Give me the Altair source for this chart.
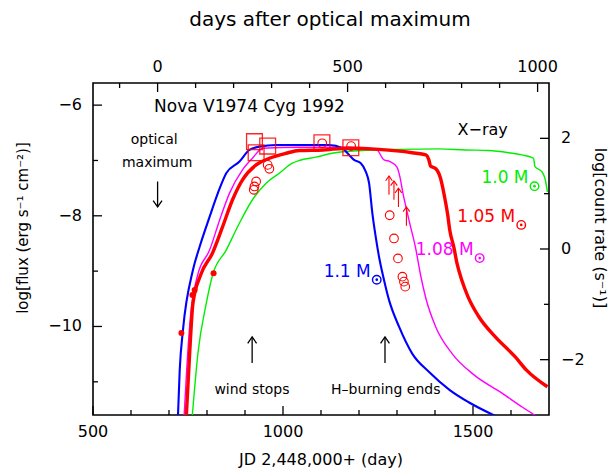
import altair as alt
import pandas as pd

FONT = "DejaVu Sans"
W, H = 456, 332
T0 = 670  # optical maximum, JD 2,448,000+

RED, BLUE, MAGENTA, GREEN = "#ff0000", "#0000ff", "#ff00ff", "#00ee00"

# ---------------- model curves (JD 2,448,000+, log flux) ----------------
m11_jd = [723.7, 728.2, 736.8, 763.0, 780.6, 806.8, 828.6, 850.6, 885.5, 911.7,
          938.0, 981.8, 1042.9, 1121.5, 1156.4, 1174.0, 1187.1, 1204.7, 1217.8, 1226.5,
          1235.1, 1244.0, 1252.7, 1265.8, 1278.9, 1305.1, 1340.0, 1383.8, 1438.9, 1488.7,
          1559.5]
m11_lf = [-11.6, -10.79, -10.06, -8.98, -8.56, -8.02, -7.59, -7.23, -7.02, -6.81,
          -6.75, -6.72, -6.72, -6.72, -6.78, -6.90, -6.99, -7.05, -7.20, -7.41,
          -7.95, -8.38, -8.74, -9.16, -9.52, -10.00, -10.49, -10.82, -11.15, -11.37,
          -11.62]

m108_jd = [739.9, 746.5, 755.7, 775.4, 806.8, 833.1, 859.3, 893.4, 919.6, 946.6,
           1042.9, 1174.0, 1244.8, 1265.8, 1281.5, 1299.9, 1307.8, 1315.6, 1323.5, 1334.0,
           1348.9, 1362.0, 1375.9, 1401.4, 1444.9, 1501.8, 1575.3, 1630.4, 1664.4]
m108_lf = [-11.6, -10.79, -9.88, -9.07, -8.62, -8.08, -7.59, -7.17, -6.96, -6.78,
           -6.76, -6.76, -6.79, -6.99, -7.02, -7.12, -7.30, -7.59, -7.84, -8.15,
           -8.58, -9.07, -9.49, -10.00, -10.49, -10.87, -11.20, -11.46, -11.61]

m105_jd = [745.7, 754.4, 763.0, 783.2, 814.7, 840.9, 867.2, 893.4, 929.3, 964.2,
           1008.0, 1042.9, 1103.2, 1174.0, 1252.7, 1340.0, 1375.9, 1383.8, 1388.3, 1402.2,
           1414.5, 1425.8, 1433.6, 1438.9, 1449.4, 1457.3, 1470.4, 1486.1, 1515.0, 1558.8,
           1611.2, 1640.8, 1695.9]
m105_lf = [-11.6, -10.48, -9.58, -9.07, -8.67, -8.20, -7.71, -7.35, -7.08, -6.96,
           -6.87, -6.82, -6.81, -6.78, -6.80, -6.86, -6.90, -6.99, -7.10, -7.15,
           -7.32, -7.68, -7.99, -8.26, -8.56, -8.84, -9.16, -9.45, -9.82, -10.19,
           -10.55, -10.79, -11.09]

m10_jd = [761.5, 776.2, 798.2, 814.7, 850.6, 885.5, 919.6, 955.6, 990.4, 1024.5,
          1042.9, 1086.7, 1129.4, 1208.1, 1305.1, 1410.0, 1480.1, 1541.2, 1593.6, 1628.5,
          1659.2, 1663.1, 1681.0, 1689.9, 1695.9]
m10_lf = [-11.6, -10.48, -9.58, -9.07, -8.62, -8.13, -7.71, -7.41, -7.23, -7.05,
          -7.00, -6.94, -6.87, -6.82, -6.80, -6.79, -6.81, -6.82, -6.86, -6.90,
          -6.96, -7.11, -7.20, -7.34, -7.57]

# ---------------- observations ----------------
dot_jd = [732.6, 761.5, 767.5, 817.3]          # filled dots, log flux
dot_lf = [-10.12, -9.43, -9.34, -9.04]

sq_jd = [924.9, 929.3, 959.7, 1102.4, 1178.5]  # squares, log count rate
sq_lc = [1.94, 1.74, 1.86, 1.92, 1.83]

ci_jd = [923.0, 924.9, 929.3, 959.7, 964.2, 1103.2, 1179.3,
         1280.8, 1292.1, 1302.5, 1314.3, 1318.2, 1321.7]   # open circles, log count rate
ci_lc = [1.07, 1.13, 1.22, 1.52, 1.45, 1.91, 1.86,
         0.61, 0.19, -0.17, -0.50, -0.59, -0.68]

ar_jd = [1278.9, 1292.0, 1303.8, 1324.8]       # lower limits, log count rate
ar_lc = [0.98, 0.89, 0.76, 0.42]

# ---------------- annotations ----------------
model_names = ["1.0", "1.05", "1.08", "1.1"]
model_colors = [GREEN, RED, MAGENTA, BLUE]
label_jd = [1646.1, 1611.2, 1501.8, 1230.9]
label_lf = [-7.32, -8.02, -8.62, -9.01]

ann_jd = [T0, 918.8, 1268.4]
ann_from = [-7.38, -10.66, -10.66]
ann_to = [-7.84, -10.19, -10.19]

note_text = ["optical", "maximum", "wind stops", "H\u2013burning ends"]
note_jd = [661.0, 669.0, 918.3, 1270.3]
note_lf = [-6.63, -7.05, -11.14, -11.15]

title_text = ["Nova V1974 Cyg 1992"]
title_jd = [911.7]
title_lf = [-6.03]

xray_text = ["X\u2212ray"]
xray_jd = [1525.4]
xray_lf = [-6.45]

# ---------------- axes: ticks and labels ----------------
bottom_major = [500, 1000, 1500]
bottom_minor = [600, 700, 800, 900, 1100, 1200, 1300, 1400, 1600]
top_major_days = [0, 500, 1000]
top_minor_days = [-100, 100, 200, 300, 400, 600, 700, 800, 900]
left_major = [-10, -8, -6]
left_minor = [-11, -9, -7]
right_major = [-2, 0, 2]
right_minor = [-1, 1]

x_title = "JD 2,448,000+ (day)"
top_title = "days after optical maximum"
left_title = "log[flux (erg s\u207b\u00b9  cm\u207b\u00b2)]"
right_title = "log[count rate (s\u207b\u00b9)]"

XS = alt.Scale(domain=[500, 1700], nice=False, zero=False)
YL = alt.Scale(domain=[-11.6, -5.6], nice=False, zero=False)
YR = alt.Scale(domain=[-3, 3], nice=False, zero=False)


def fmt(v):
    return str(v).replace("-", "\u2212")


def X(field):
    return alt.X(field, scale=XS, axis=None)


# ---------------- left-axis layers ----------------
left_layers = []
curve_specs = [(m10_jd, m10_lf, GREEN, 1.4),
               (m108_jd, m108_lf, MAGENTA, 1.4),
               (m11_jd, m11_lf, BLUE, 2.1),
               (m105_jd, m105_lf, RED, 3.4)]
for jd, lf, col, sw in curve_specs:
    df = pd.DataFrame({"jd": jd, "lf": lf})
    left_layers.append(
        alt.Chart(df).mark_line(color=col, strokeWidth=sw, clip=True, interpolate="monotone").encode(
            x=X("jd:Q"), y=alt.Y("lf:Q", scale=YL, axis=None), order=alt.Order("jd:Q"))
    )

dots = pd.DataFrame({"jd": dot_jd, "lf": dot_lf})
left_layers.append(
    alt.Chart(dots).mark_point(shape="circle", filled=True, color=RED, size=36, opacity=1).encode(
        x=X("jd:Q"), y=alt.Y("lf:Q", scale=YL, axis=None))
)

labels = pd.DataFrame({"model": model_names, "jd": label_jd, "lf": label_lf})
labels["txt"] = labels["model"] + " M"
cscale = alt.Scale(domain=model_names, range=model_colors)
left_layers.append(
    alt.Chart(labels).mark_text(font=FONT, fontSize=17, align="right", baseline="middle").encode(
        x=X("jd:Q"), y=alt.Y("lf:Q", scale=YL, axis=None),
        text="txt:N", color=alt.Color("model:N", scale=cscale, legend=None))
)
left_layers.append(
    alt.Chart(labels).mark_point(shape="circle", filled=False, size=72, strokeWidth=1.4,
                                 opacity=1, xOffset=6, yOffset=8).encode(
        x=X("jd:Q"), y=alt.Y("lf:Q", scale=YL, axis=None),
        color=alt.Color("model:N", scale=cscale, legend=None))
)
left_layers.append(
    alt.Chart(labels).mark_point(shape="circle", filled=True, size=7, opacity=1,
                                 xOffset=6, yOffset=8).encode(
        x=X("jd:Q"), y=alt.Y("lf:Q", scale=YL, axis=None),
        color=alt.Color("model:N", scale=cscale, legend=None))
)

UP = "M-0.7,1L0,0L0.7,1"
DOWN = "M-0.7,-1L0,0L0.7,-1"
ann = pd.DataFrame({"jd": ann_jd, "y0": ann_from, "y1": ann_to})
ann["dir"] = ["up" if b > a else "down" for a, b in zip(ann_from, ann_to)]
left_layers.append(
    alt.Chart(ann).mark_rule(color="black", strokeWidth=1.3).encode(
        x=X("jd:Q"), y=alt.Y("y0:Q", scale=YL, axis=None), y2="y1:Q")
)
left_layers.append(
    alt.Chart(ann).mark_point(filled=False, color="black", size=160, strokeWidth=1.3, opacity=1).encode(
        x=X("jd:Q"), y=alt.Y("y1:Q", scale=YL, axis=None),
        shape=alt.Shape("dir:N", scale=alt.Scale(domain=["up", "down"], range=[UP, DOWN]), legend=None))
)


def text_layer(txt, jd, lf, size):
    df = pd.DataFrame({"t": txt, "jd": jd, "lf": lf})
    return alt.Chart(df).mark_text(font=FONT, fontSize=size, color="black", baseline="middle").encode(
        x=X("jd:Q"), y=alt.Y("lf:Q", scale=YL, axis=None), text="t:N")


left_layers.append(text_layer(note_text, note_jd, note_lf, 14))
left_layers.append(text_layer(title_text, title_jd, title_lf, 17))
left_layers.append(text_layer(xray_text, xray_jd, xray_lf, 16))


# ticks (drawn inward)
def xtick(vals, length, top, days=False):
    df = pd.DataFrame({"v": vals})
    ch = alt.Chart(df).transform_calculate(jd=f"datum.v + {T0}" if days else "datum.v")
    if top:
        yy, yy2 = alt.value(0), alt.value(length)
    else:
        yy, yy2 = alt.value(H), alt.value(H - length)
    return ch.mark_rule(color="black", strokeWidth=1.3).encode(x=X("jd:Q"), y=yy, y2=yy2)


def ytick(vals, length, scale, right):
    df = pd.DataFrame({"v": vals})
    if right:
        xx, xx2 = alt.value(W), alt.value(W - length)
    else:
        xx, xx2 = alt.value(0), alt.value(length)
    return alt.Chart(df).mark_rule(color="black", strokeWidth=1.3).encode(
        y=alt.Y("v:Q", scale=scale, axis=None), x=xx, x2=xx2)


def xlabels(vals, top, days=False):
    df = pd.DataFrame({"v": vals})
    df["t"] = [fmt(v) for v in vals]
    ch = alt.Chart(df).transform_calculate(jd=f"datum.v + {T0}" if days else "datum.v")
    yy = alt.value(-16) if top else alt.value(H + 17)
    return ch.mark_text(font=FONT, fontSize=16, color="black", baseline="middle", align="center").encode(
        x=X("jd:Q"), y=yy, text="t:N")


def ylabels(vals, scale, right):
    df = pd.DataFrame({"v": vals})
    df["t"] = [fmt(v) for v in vals]
    xx = alt.value(W + 12) if right else alt.value(-11)
    return alt.Chart(df).mark_text(font=FONT, fontSize=16, color="black", baseline="middle",
                                   align="left" if right else "right").encode(
        y=alt.Y("v:Q", scale=scale, axis=None), x=xx, text="t:N")


def title_mark(txt, x, y, size, angle=0):
    kw = dict(font=FONT, fontSize=size, color="black", baseline="middle", align="center")
    if angle:
        kw["angle"] = angle
    return alt.Chart(pd.DataFrame({"t": [txt]})).mark_text(**kw).encode(
        x=alt.value(x), y=alt.value(y), text="t:N")


left_layers += [xtick(bottom_major, 9, False), xtick(bottom_minor, 5, False),
                xtick(top_major_days, 9, True, True), xtick(top_minor_days, 5, True, True),
                ytick(left_major, 9, YL, False), ytick(left_minor, 5, YL, False),
                xlabels(bottom_major, False), xlabels(top_major_days, True, True),
                ylabels(left_major, YL, False),
                title_mark(x_title, W / 2, H + 45, 16),
                title_mark(top_title, 237, -63, 20),
                title_mark(left_title, -70, 145, 15, 270),
                title_mark(right_title, 507, 145, 16, 90)]

left = alt.layer(*left_layers)

# ---------------- right-axis layers ----------------
sq = pd.DataFrame({"jd": sq_jd, "lc": sq_lc})
ci = pd.DataFrame({"jd": ci_jd, "lc": ci_lc})
ar = pd.DataFrame({"jd": ar_jd, "lc": ar_lc})

right_layers = [
    alt.Chart(sq).mark_point(shape="square", filled=False, color=RED, size=250, strokeWidth=1.3, opacity=0.85).encode(
        x=X("jd:Q"), y=alt.Y("lc:Q", scale=YR, axis=None)),
    alt.Chart(ci).mark_point(shape="circle", filled=False, color=RED, size=75, strokeWidth=1.1, opacity=1).encode(
        x=X("jd:Q"), y=alt.Y("lc:Q", scale=YR, axis=None)),
    alt.Chart(ar).transform_calculate(top="datum.lc + 0.34").mark_rule(color=RED, strokeWidth=1.1).encode(
        x=X("jd:Q"), y=alt.Y("lc:Q", scale=YR, axis=None), y2="top:Q"),
    alt.Chart(ar).transform_calculate(top="datum.lc + 0.34").mark_point(
        shape=UP, filled=False, color=RED, size=90, strokeWidth=1.1, opacity=1).encode(
        x=X("jd:Q"), y=alt.Y("top:Q", scale=YR, axis=None)),
    ytick(right_major, 9, YR, True),
    ytick(right_minor, 5, YR, True),
    ylabels(right_major, YR, True),
]
right = alt.layer(*right_layers)

chart = (
    alt.layer(left, right)
    .resolve_scale(y="independent")
    .properties(width=W, height=H, autosize=alt.AutoSizeParams(type="none"),
                padding={"left": 93, "top": 83, "right": 67, "bottom": 60},
                background="white")
    .configure_view(stroke="black", strokeWidth=1.6)
)

chart.save("out.html", embed_options={"renderer": "svg", "actions": False})
